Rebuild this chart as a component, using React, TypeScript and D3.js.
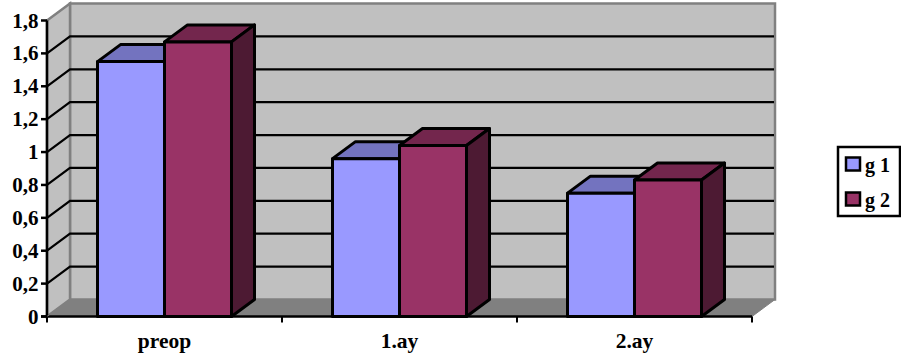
import React from "react";
import * as d3 from "d3";

const categories = ["preop", "1.ay", "2.ay"];
const seriesNames = ["g 1", "g 2"];
const g1Values = [1.55, 0.96, 0.75];
const g2Values = [1.67, 1.04, 0.83];
const yTicks = [0, 0.2, 0.4, 0.6, 0.8, 1, 1.2, 1.4, 1.6, 1.8];
const fills = ["#9999ff", "#993366"];
const topFills = ["#7373bf", "#73264d"];
const sideFills = ["#4d4d80", "#4d1a33"];

const W = 901;
const H = 362;
const DX = 23;
const DY = -17;
const LEFT = 47;
const RIGHT = 752;
const BASE = 316.5;
const TOP = 20.5;
const BAR_W = 67;
const FONT = "'Liberation Serif', serif";

const y = d3.scaleLinear().domain([0, 1.8]).range([BASE, TOP]);
const x = d3.scaleBand<string>().domain(categories).range([LEFT, RIGHT]);
const inner = d3.scaleBand<string>().domain(seriesNames).range([0, BAR_W * 2]);
const poly = d3.line();

const fmt = (v: number) => String(v).replace(".", ",");

export default function App() {
  const values = [g1Values, g2Values];
  const catTicks = [...categories.map((c) => x(c) as number), RIGHT];
  return (
    <svg width={W} height={H} style={{ position: "absolute", left: 0, top: 0, background: "#fff" }}>
      {/* chart walls and floor */}
      <path
        d={poly([[LEFT + DX, TOP + DY], [RIGHT + DX, TOP + DY], [RIGHT + DX, BASE + DY], [LEFT + DX, BASE + DY]]) + "Z"}
        fill="#c0c0c0" stroke="#808080" strokeWidth={2.5}
      />
      <path
        d={poly([[LEFT, TOP], [LEFT + DX, TOP + DY], [LEFT + DX, BASE + DY], [LEFT, BASE]]) + "Z"}
        fill="#c0c0c0" stroke="#808080" strokeWidth={2.5}
      />
      <path
        d={poly([[LEFT, BASE], [LEFT + DX, BASE + DY], [RIGHT + DX, BASE + DY], [RIGHT, BASE]]) + "Z"}
        fill="#808080" stroke="#808080" strokeWidth={1}
      />

      {/* gridlines across the side and back walls */}
      {yTicks.filter((t) => t > 0 && t < 1.8).map((t) => (
        <path
          key={t}
          d={poly([[LEFT, y(t)], [LEFT + DX, y(t) + DY], [RIGHT + DX - 1, y(t) + DY]]) as string}
          fill="none" stroke="#000" strokeWidth={2.2}
        />
      ))}

      {/* axes */}
      <line x1={LEFT} x2={LEFT} y1={TOP} y2={BASE} stroke="#000" strokeWidth={2.5} />
      <line x1={LEFT - 6} x2={RIGHT} y1={BASE} y2={BASE} stroke="#000" strokeWidth={2.5} />
      <line x1={LEFT} x2={LEFT + DX} y1={BASE} y2={BASE + DY} stroke="#808080" strokeWidth={1} />
      {yTicks.map((t) => (
        <g key={t}>
          <line x1={LEFT - 6} x2={LEFT} y1={y(t)} y2={y(t)} stroke="#000" strokeWidth={2.5} />
          <text x={38.5} y={y(t) + 7} textAnchor="end" fontFamily={FONT} fontWeight="bold" fontSize={21}>
            {fmt(t)}
          </text>
        </g>
      ))}
      {catTicks.map((px) => (
        <line key={px} x1={px} x2={px} y1={BASE} y2={BASE + 6} stroke="#000" strokeWidth={2} />
      ))}

      {/* 3D bars */}
      {categories.map((c, ci) => (
        <g key={c}>
          {seriesNames.map((s, si) => {
            const center = (x(c) as number) + x.bandwidth() / 2;
            const x0 = center - BAR_W + (inner(s) as number);
            const x1 = x0 + BAR_W;
            const yt = y(values[si][ci]);
            return (
              <g key={s} stroke="#000" strokeWidth={3} strokeLinejoin="round">
                <path
                  d={poly([[x0, yt], [x0 + DX, yt + DY], [x1 + DX, yt + DY], [x1, yt]]) + "Z"}
                  fill={topFills[si]}
                />
                <path
                  d={poly([[x1, yt], [x1 + DX, yt + DY], [x1 + DX, BASE + DY], [x1, BASE]]) + "Z"}
                  fill={sideFills[si]}
                />
                <rect x={x0} y={yt} width={BAR_W} height={BASE - yt} fill={fills[si]} />
              </g>
            );
          })}
          <text
            x={(x(c) as number) + x.bandwidth() / 2}
            y={348}
            textAnchor="middle"
            fontFamily={FONT}
            fontWeight="bold"
            fontSize={21.5}
          >
            {c}
          </text>
        </g>
      ))}

      {/* legend */}
      <rect x={838} y={147} width={62} height={69} fill="#fff" stroke="#000" strokeWidth={2.5} />
      {seriesNames.map((s, i) => (
        <g key={s}>
          <rect x={846} y={157.5 + i * 35} width={14} height={13} fill={fills[i]} stroke="#000" strokeWidth={2.5} />
          <text x={865} y={172 + i * 34.5} fontFamily={FONT} fontWeight="bold" fontSize={20}>
            {s}
          </text>
        </g>
      ))}
    </svg>
  );
}
